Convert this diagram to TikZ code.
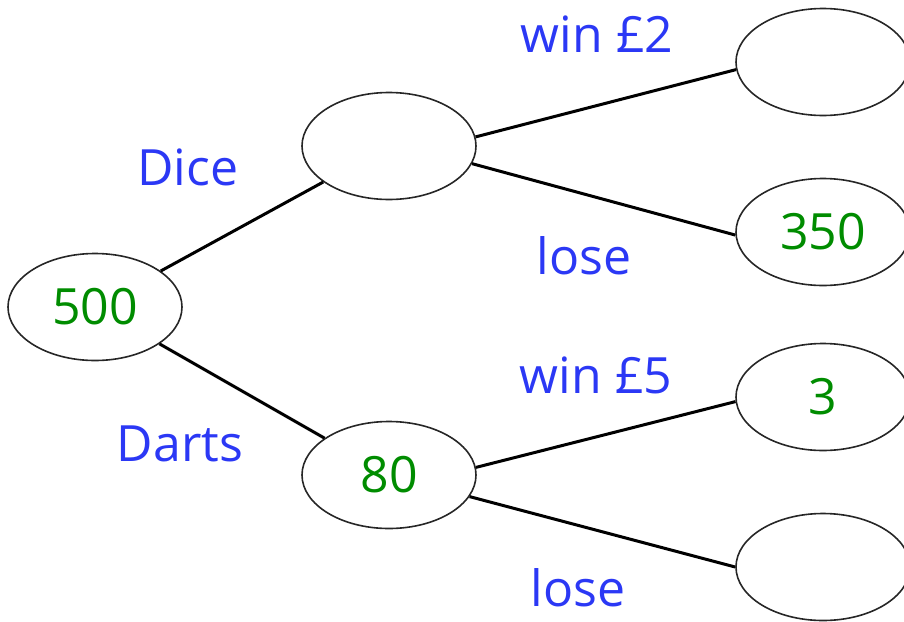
\documentclass[tikz,border=0pt]{standalone}
\usepackage{fontspec}
\setmainfont{Open Sans}
\usepackage{xcolor}
\usetikzlibrary{shapes.geometric}
\definecolor{lblblue}{RGB}{43,56,245}
\definecolor{numgreen}{RGB}{0,140,0}

\begin{document}
\begin{tikzpicture}[x=1pt,y=-1pt]
\tikzstyle{every node}+=[inner sep=0pt]
\tikzstyle{outcome}=[draw=black!85,line width=1.6pt,ellipse,minimum width=174pt,minimum height=107pt,font=\fontsize{50}{60}\selectfont,text=numgreen]
\tikzstyle{branch}=[black,line width=3pt]
\tikzstyle{lbl}=[anchor=base,font=\fontsize{50}{60}\selectfont,text=lblblue]
\useasboundingbox (0,0) rectangle (904,621);
% tree nodes
\node [outcome] (root) at (95,307) {500};
\node [outcome] (dice) at (389,146) {};
\node [outcome] (darts) at (389,475) {80};
\node [outcome] (dicewin) at (823,62) {};
\node [outcome] (diceloss) at (823,232) {350};
\node [outcome] (dartswin) at (823,397) {3};
\node [outcome] (dartsloss) at (823,567) {};
% branches
\draw [branch] (root) -- (dice);
\draw [branch] (root) -- (darts);
\draw [branch] (dice.6) -- (dicewin.185);
\draw [branch] (dice.-12) -- (diceloss.182);
\draw [branch] (darts.5) -- (dartswin.183);
\draw [branch] (darts.-15) -- (dartsloss.180);
% branch labels
\node [lbl] (dicelbl) at (188,185) {Dice};
\node [lbl] (dartslbl) at (180,461) {Darts};
\node [lbl] (dicewinlbl) at (597,52) {win £2};
\node [lbl] (dicelosslbl) at (584,274) {lose};
\node [lbl] (dartswinlbl) at (596,393) {win £5};
\node [lbl] (dartslosslbl) at (578,606) {lose};
\end{tikzpicture}
\end{document}
